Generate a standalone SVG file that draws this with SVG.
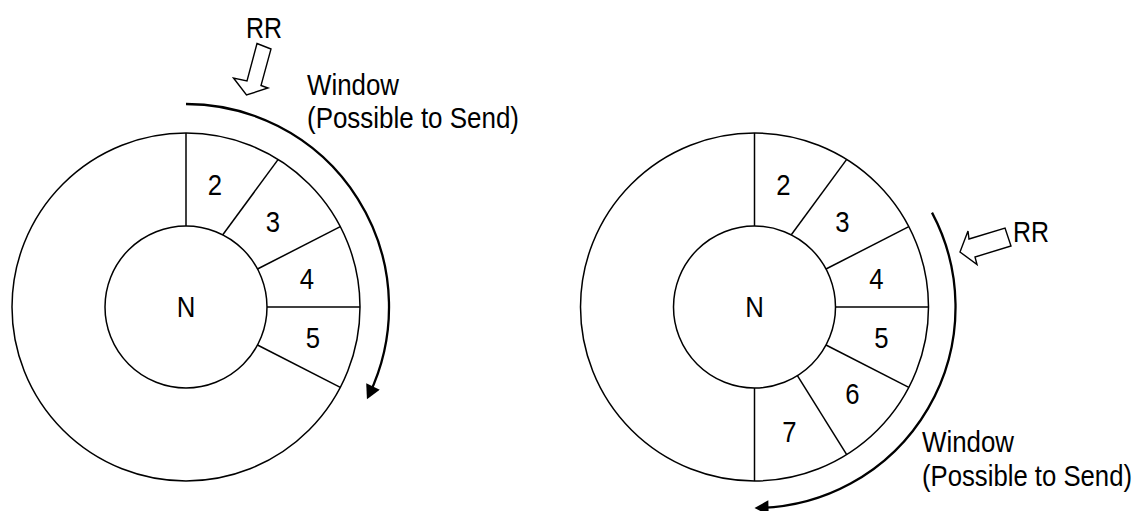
<svg xmlns="http://www.w3.org/2000/svg" width="1140" height="511" viewBox="0 0 1140 511">
<style>
  .ring { fill: none; stroke: #000; stroke-width: 1.5; }
  .div { stroke: #000; stroke-width: 1.5; fill: none; }
  .win { fill: none; stroke: #000; stroke-width: 2.3; }
  .rr { fill: #fff; stroke: #000; stroke-width: 1.4; stroke-linejoin: miter; }
  text { font-family: "Liberation Sans", Arial, sans-serif; font-size: 30px; fill: #000; }
  .c { text-anchor: middle; }
</style>
<defs>
  <marker id="ah" markerUnits="userSpaceOnUse" markerWidth="15" markerHeight="15" viewBox="0 0 14 15" refX="9" refY="7.5" orient="auto">
    <path d="M0,0 L14,7.5 L0,15 z" fill="#000"/>
  </marker>
</defs>

<g id="left-wheel" transform="translate(186,307)">
  <circle class="ring" cx="0" cy="0" r="174"/>
  <circle class="ring" cx="0" cy="0" r="81"/>
  <line class="div" x1="0" y1="-81" x2="0" y2="-174"/>
  <line class="div" x1="36.8" y1="-72.2" x2="92.2" y2="-147.6"/>
  <line class="div" x1="71.5" y1="-38" x2="154.3" y2="-80.3"/>
  <line class="div" x1="81" y1="0" x2="174" y2="0"/>
  <line class="div" x1="71.5" y1="38" x2="154.3" y2="80.3"/>
  <g id="left-N"><text class="c" x="0" y="10" textLength="18.6" lengthAdjust="spacingAndGlyphs">N</text></g>
  <g id="left-seg2"><text class="c" x="29" y="-112" textLength="14.3" lengthAdjust="spacingAndGlyphs">2</text></g>
  <g id="left-seg3"><text class="c" x="87" y="-75" textLength="14.3" lengthAdjust="spacingAndGlyphs">3</text></g>
  <g id="left-seg4"><text class="c" x="121" y="-18" textLength="14.3" lengthAdjust="spacingAndGlyphs">4</text></g>
  <g id="left-seg5"><text class="c" x="127" y="41" textLength="14.3" lengthAdjust="spacingAndGlyphs">5</text></g>
</g>

<g id="right-wheel" transform="translate(754.5,307)">
  <circle class="ring" cx="0" cy="0" r="174"/>
  <circle class="ring" cx="0" cy="0" r="81"/>
  <line class="div" x1="0" y1="-81" x2="0" y2="-174"/>
  <line class="div" x1="36.8" y1="-72.2" x2="92.2" y2="-147.6"/>
  <line class="div" x1="71.5" y1="-38" x2="154.3" y2="-80.3"/>
  <line class="div" x1="81" y1="0" x2="174" y2="0"/>
  <line class="div" x1="71.5" y1="38" x2="154.3" y2="80.3"/>
  <line class="div" x1="42.9" y1="68.7" x2="92.2" y2="147.6"/>
  <line class="div" x1="0" y1="81" x2="0" y2="174"/>
  <g id="right-N"><text class="c" x="0" y="10" textLength="18.6" lengthAdjust="spacingAndGlyphs">N</text></g>
  <g id="right-seg2"><text class="c" x="29" y="-112" textLength="14.3" lengthAdjust="spacingAndGlyphs">2</text></g>
  <g id="right-seg3"><text class="c" x="88" y="-75" textLength="14.3" lengthAdjust="spacingAndGlyphs">3</text></g>
  <g id="right-seg4"><text class="c" x="122" y="-18" textLength="14.3" lengthAdjust="spacingAndGlyphs">4</text></g>
  <g id="right-seg5"><text class="c" x="127" y="41" textLength="14.3" lengthAdjust="spacingAndGlyphs">5</text></g>
  <g id="right-seg6"><text class="c" x="98" y="97" textLength="14.3" lengthAdjust="spacingAndGlyphs">6</text></g>
  <g id="right-seg7"><text class="c" x="35" y="135" textLength="14.3" lengthAdjust="spacingAndGlyphs">7</text></g>
</g>

<g id="connectors">
  <path id="left-window-arc" class="win" d="M186,104 A203,203 0 0 1 369.1,394.7" marker-end="url(#ah)"/>
  <path id="right-window-arc" class="win" d="M932,212.6 A201,201 0 0 1 759.5,507.9" marker-end="url(#ah)"/>
  <polygon id="left-rr-arrow" class="rr" points="257,43.5 271,49 261,85.5 268,88 246.5,95 233.5,78 247,81"/>
  <polygon id="right-rr-arrow" class="rr" points="1005,228 1011,246 975,257 977,264.5 960,252 968,231 969,239"/>
</g>

<g id="left-labels">
  <text x="246" y="38" textLength="36" lengthAdjust="spacingAndGlyphs">RR</text>
  <text x="307" y="95" textLength="92" lengthAdjust="spacingAndGlyphs">Window</text>
  <text x="307" y="128" textLength="212" lengthAdjust="spacingAndGlyphs">(Possible to Send)</text>
</g>
<g id="right-labels">
  <text x="1013" y="242" textLength="36" lengthAdjust="spacingAndGlyphs">RR</text>
  <text x="922" y="452" textLength="92" lengthAdjust="spacingAndGlyphs">Window</text>
  <text x="922" y="486" textLength="210" lengthAdjust="spacingAndGlyphs">(Possible to Send)</text>
</g>
</svg>
